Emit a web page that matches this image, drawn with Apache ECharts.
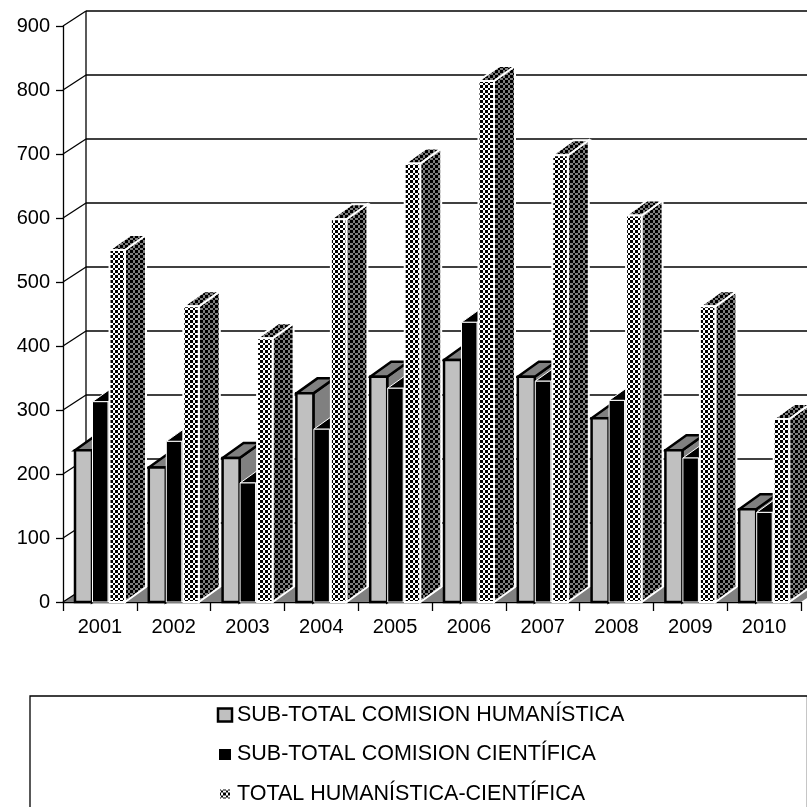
<!DOCTYPE html>
<html>
<head>
<meta charset="utf-8">
<style>html,body{margin:0;padding:0;background:#fff}#main{width:807px;height:807px}</style>
<script src="https://cdn.jsdelivr.net/npm/echarts@6/dist/echarts.min.js"></script>
</head>
<body>
<div id="main"></div>
<script>
const years = ['2001','2002','2003','2004','2005','2006','2007','2008','2009','2010'];
const yTicks = [0,100,200,300,400,500,600,700,800,900];
const humanistica = [237,210,225,326,352,378,352,287,237,145];
const cientifica = [313,251,186,270,334,437,345,315,225,140];
const total = [550,462,412,598,685,814,698,604,462,286];
const names = ['SUB-TOTAL COMISION HUMANÍSTICA','SUB-TOTAL COMISION CIENTÍFICA','TOTAL HUMANÍSTICA-CIENTÍFICA'];

// depth of the fake 3d
const DX = 21, DY = 15, WALL_DX = 23;
const FONT = '"Liberation Sans", Arial, sans-serif';

function checker(bg, fg) {
  const c = document.createElement('canvas');
  c.width = 10; c.height = 10;
  const g = c.getContext('2d');
  g.fillStyle = bg;
  g.fillRect(0, 0, 10, 10);
  g.fillStyle = fg;
  // 5px period, rows staggered, whole pixels so it stays crisp
  [0, 5].forEach(x => [0, 5].forEach(y => {
    g.fillRect(x, y, 3, 3);
    g.fillRect(x + 3, y + 3, 2, 2);
  }));
  return { image: c, repeat: 'repeat' };
}
const frontFill = checker('#ffffff', '#000000');
const sideFill = checker('#808080', '#000000');

function poly(points, fill, stroke, width) {
  return {
    type: 'polygon',
    shape: { points: points },
    style: { fill: fill, stroke: stroke, lineWidth: width }
  };
}

function line(x1, y1, x2, y2) {
  return {
    type: 'line',
    shape: { x1: x1, y1: y1, x2: x2, y2: y2 },
    style: { stroke: '#000', lineWidth: 1.3 }
  };
}

// back wall and floor, one row per y tick
function renderWall(params, api) {
  const sys = params.coordSys;
  const y = api.coord([0, api.value(1)])[1];
  const kids = [];
  if (api.value(1) === 0) {
    kids.push(poly([[sys.x, y], [sys.x + WALL_DX, y - DY], [sys.x + sys.width + WALL_DX, y - DY], [sys.x + sys.width, y]], '#808080', null, 0));
    kids.push(line(sys.x + WALL_DX, y - DY, sys.x + WALL_DX, sys.y - DY));
  } else {
    kids.push(line(sys.x + WALL_DX, y - DY, sys.x + sys.width + WALL_DX, y - DY));
  }
  kids.push(line(sys.x, y, sys.x + WALL_DX, y - DY));
  return { type: 'group', children: kids };
}

function barRenderer(from, to, front, side, top, stroke, width) {
  return function (params, api) {
    const p = api.coord([api.value(0), api.value(1)]);
    const base = api.coord([api.value(0), 0]);
    const band = api.size([1, 0])[0];
    const x0 = p[0] - band / 2 + from;
    const x1 = p[0] - band / 2 + to;
    const t = p[1], b = base[1];
    return {
      type: 'group',
      children: [
        poly([[x1, t], [x1 + DX, t - DY], [x1 + DX, b - DY], [x1, b]], side, stroke, width),
        poly([[x0, t], [x0 + DX, t - DY], [x1 + DX, t - DY], [x1, t]], top, stroke, width),
        poly([[x0, t], [x1, t], [x1, b], [x0, b]], front, stroke, width)
      ]
    };
  };
}

function toRows(values) {
  return values.map((v, i) => [i, v]);
}

const chart = echarts.init(document.getElementById('main'));
chart.setOption({
  animation: false,
  backgroundColor: '#fff',
  textStyle: { fontFamily: FONT },
  grid: { left: 63, top: 26, width: 738, height: 576, containLabel: false },
  legend: {
    orient: 'vertical',
    left: 30,
    top: 696,
    height: 300,
    align: 'left',
    padding: [8, 183, 40, 186],
    borderColor: '#000',
    borderWidth: 1.3,
    itemWidth: 14,
    itemHeight: 13,
    itemGap: 17.5,
    textStyle: { fontFamily: FONT, fontSize: 21.5, color: '#000' },
    data: [
      { name: names[0], icon: 'rect', itemStyle: { color: '#c0c0c0', borderColor: '#000', borderWidth: 2.5 } },
      { name: names[1], icon: 'rect', itemStyle: { color: '#000', borderColor: '#fff', borderWidth: 2 } },
      { name: names[2], icon: 'rect', itemStyle: { color: frontFill, borderColor: '#fff', borderWidth: 4 } }
    ]
  },
  xAxis: {
    type: 'category',
    data: years,
    boundaryGap: true,
    axisLine: { lineStyle: { color: '#000', width: 1.3 } },
    axisTick: { show: true, length: 9, lineStyle: { color: '#000', width: 1.3 } },
    axisLabel: { color: '#000', fontSize: 20, fontFamily: FONT, margin: 15, interval: 0 }
  },
  yAxis: {
    type: 'value',
    min: 0,
    max: 900,
    interval: 100,
    splitLine: { show: false },
    axisLine: { show: true, lineStyle: { color: '#000', width: 1.3 } },
    axisTick: { show: true, length: 7, lineStyle: { color: '#000', width: 1.3 } },
    axisLabel: { color: '#000', fontSize: 20, fontFamily: FONT, margin: 13 }
  },
  series: [
    {
      name: 'wall',
      type: 'custom',
      silent: true,
      clip: false,
      z: 1,
      encode: { x: 0, y: 1 },
      data: yTicks.map(v => [0, v]),
      renderItem: renderWall
    },
    {
      name: names[0],
      type: 'custom',
      clip: false,
      z: 2,
      encode: { x: 0, y: 1 },
      data: toRows(humanistica),
      renderItem: barRenderer(12, 29, '#c0c0c0', '#808080', '#808080', '#000', 2.5)
    },
    {
      name: names[1],
      type: 'custom',
      clip: false,
      z: 3,
      encode: { x: 0, y: 1 },
      data: toRows(cientifica),
      renderItem: barRenderer(29.5, 45, '#000', '#000', '#000', '#fff', 1)
    },
    {
      name: names[2],
      type: 'custom',
      clip: false,
      z: 4,
      encode: { x: 0, y: 1 },
      data: toRows(total),
      renderItem: barRenderer(46.5, 62, frontFill, sideFill, sideFill, '#fff', 2)
    }
  ]
});
</script>
</body>
</html>
